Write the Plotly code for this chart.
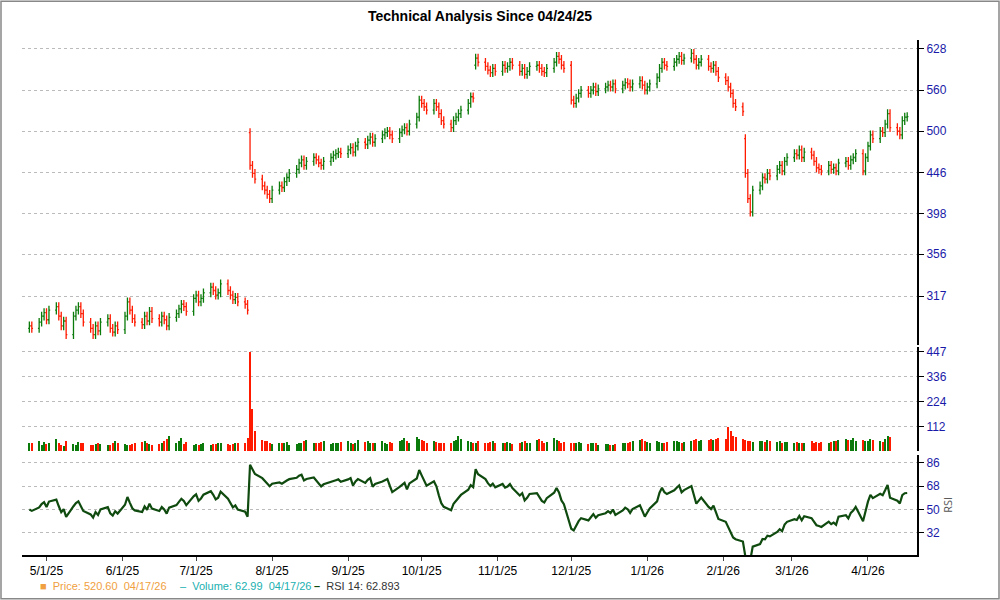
import pandas as pd
import numpy as np
import plotly.graph_objects as go

closes = [292, 290,
 295, 300, 303, 297, 305,
 308, 300, 292, 296, 285,
 300, 305, 308, 302, 295,
 290, 285, 292, 288, 295,
 298, 290, 287, 292, 289,
 300, 312, 305, 298, 295,
 293, 300, 296, 304, 298,
 295, 300, 297, 292, 299,
 302, 306, 310, 308, 304,
 315, 318, 312, 315, 320,
 325, 322, 318, 320, 328,
 322, 318, 314, 316, 312,
 310, 305, 455, 445, 438,
 430, 425, 420, 415, 425,
 430, 428, 435, 440, 445,
 450, 458, 462, 455, 460,
 465, 462, 458, 455, 460,
 465, 468, 470, 472, 470,
 475, 478, 472, 480, 485,
 482, 488, 492, 485, 490,
 495, 498, 500, 495, 490,
 498, 502, 505, 500, 510,
 520, 545, 540, 535, 530,
 540, 535, 525, 515, 510,
 505, 515, 520, 525, 530,
 540, 550, 548, 612, 605,
 598, 592, 588, 595, 590,
 600, 595, 598, 605, 600,
 590, 595, 585, 590, 598,
 600, 595, 590, 588, 595,
 605, 615, 610, 600, 595,
 545, 540, 548, 555, 560,
 555, 560, 565, 558, 562,
 565, 568, 565, 570, 562,
 568, 572, 570, 565, 570,
 575, 568, 560, 565, 570,
 580, 595, 605, 600, 598,
 605, 610, 615, 608, 612,
 620, 610, 600, 605, 610,
 598, 595, 600, 590, 580,
 575, 565, 555, 540, 535,
 528, 445, 415, 400, 425,
 430, 440, 438, 445, 442,
 450, 455, 448, 460, 465,
 470, 468, 475, 465, 472,
 468, 460, 452, 450, 448,
 455, 450, 452, 448, 458,
 460, 455, 462, 465, 470,
 448, 465, 480, 495, 490,
 500, 498, 510, 525, 505,
 500, 495, 515, 520, 520.6]

volumes = [40, 38,
 45, 30, 42, 35, 38,
 55, 40, 30, 25, 45,
 35, 30, 42, 38, 36,
 30, 28, 35, 40, 32,
 30, 28, 40, 45, 38,
 35, 30, 28, 32, 38,
 42, 45, 40, 35, 30,
 32, 36, 45, 55, 70,
 40, 45, 60, 35, 42,
 30, 35, 28, 32, 40,
 30, 35, 32, 40, 38,
 35, 30, 32, 36, 38,
 40, 60, 447, 190, 90,
 50, 45, 48, 40, 35,
 38, 40, 36, 42, 30,
 35, 40, 38, 45, 50,
 38, 40, 36, 42, 45,
 35, 40, 38, 36, 42,
 45, 40, 35, 38, 50,
 42, 45, 40, 38, 36,
 48, 40, 35, 42, 38,
 45, 50, 60, 45, 40,
 65, 55, 50, 45, 40,
 45, 42, 38, 40, 36,
 40, 45, 50, 70, 55,
 45, 42, 40, 38, 45,
 40, 38, 42, 45, 40,
 36, 40, 42, 38, 35,
 40, 42, 45, 40, 38,
 50, 55, 45, 40, 42,
 60, 50, 45, 40, 42,
 38, 40, 36, 42, 40,
 35, 38, 40, 36, 30,
 32, 35, 30, 28, 34,
 36, 40, 38, 42, 45,
 50, 55, 45, 42, 40,
 45, 42, 40, 38, 44,
 48, 45, 42, 40, 44,
 46, 50, 55, 48, 50,
 52, 55, 50, 58, 60,
 55, 110, 90, 70, 65,
 55, 50, 48, 45, 42,
 45, 48, 44, 50, 46,
 42, 45, 40, 44, 42,
 40, 42, 38, 36, 40,
 45, 40, 42, 38, 44,
 40, 42, 45, 48, 50,
 55, 50, 52, 60, 48,
 50, 45, 48, 55, 50,
 45, 42, 55, 70, 62.99]

gap_opens = {"2025-07-23": 498, "2025-10-23": 600, "2026-02-10": 490, "2025-12-01": 600}
rsi_seed = [4.0, 4.0]  # prior average gain / loss carried into the window

tick_dates = ["2025-05-01", "2025-06-01", "2025-07-01", "2025-08-01", "2025-09-01", "2025-10-01",
              "2025-11-01", "2025-12-01", "2026-01-01", "2026-02-01", "2026-03-01", "2026-04-01"]
tick_text = ["5/1/25", "6/1/25", "7/1/25", "8/1/25", "9/1/25", "10/1/25",
             "11/1/25", "12/1/25", "1/1/26", "2/1/26", "3/1/26", "4/1/26"]
price_ticks = [317, 356, 398, 446, 500, 560, 628]
vol_ticks = [112, 224, 336, 447]
rsi_ticks = [32, 50, 68, 86]

dates = pd.bdate_range("2025-04-24", periods=len(closes))
c = pd.Series(closes, index=dates, dtype=float)
o = c.shift(1).fillna(c.iloc[0] - 2)
for d, v in gap_opens.items():
    o[pd.Timestamp(d)] = v
hi = np.maximum(o, c) * 1.012
lo = np.minimum(o, c) * 0.988

au, ad = rsi_seed
rsi = []
prev = closes[0]
for v in closes:
    d = v - prev
    prev = v
    au = (au * 13 + max(d, 0)) / 14
    ad = (ad * 13 + max(-d, 0)) / 14
    rsi.append(100 - 100 / (1 + au / ad))

GREEN, RED = "#0a7a0a", "#ff1a00"
vcol = [GREEN if cc >= oo else RED for cc, oo in zip(c, o)]

fig = go.Figure()
fig.add_trace(go.Ohlc(x=dates, open=o, high=hi, low=lo, close=c, yaxis="y",
                      increasing_line_color=GREEN, decreasing_line_color=RED,
                      line_width=1.3, tickwidth=0.5, showlegend=False, hoverinfo="skip"))
fig.add_trace(go.Bar(x=dates, y=volumes, yaxis="y2", marker_color=vcol, marker_line_width=0,
                     width=86400000 * 0.45, showlegend=False))
fig.add_trace(go.Scatter(x=dates, y=rsi, yaxis="y3", mode="lines",
                         line=dict(color="#0f4a0f", width=2.2), showlegend=False))

axfont = dict(family="Liberation Sans, Arial", size=12, color="#1a1aa8")
common = dict(side="right", anchor="x", showline=True, linecolor="black", linewidth=2,
              ticks="outside", ticklen=5, tickcolor="black", gridcolor="#bbbbbb",
              griddash="dot", tickfont=axfont, zeroline=False, automargin=False)
fig.update_layout(
    width=1000, height=600, paper_bgcolor="white", plot_bgcolor="white",
    margin=dict(l=0, r=0, t=0, b=0, autoexpand=False), bargap=0,
    title=dict(text="<b>Technical Analysis Since 04/24/25</b>", x=0.48, y=0.982, xanchor="center",
               font=dict(family="Liberation Sans, Arial", size=14, color="black")),
    xaxis=dict(domain=[0.022, 0.917], anchor="y3", type="date", automargin=False,
               range=["2025-04-21", "2026-04-21"], rangeslider=dict(visible=False),
               tickvals=tick_dates, ticktext=tick_text, showgrid=False, showline=True,
               linecolor="black", linewidth=2, ticks="outside", ticklen=4,
               tickfont=dict(family="Liberation Sans, Arial", size=12, color="black")),
    yaxis=dict(domain=[0.425, 0.933], type="log", range=[np.log10(277), np.log10(643)],
               tickvals=price_ticks, **common),
    yaxis2=dict(domain=[0.248, 0.422], range=[0, 470], tickvals=vol_ticks, **common),
    yaxis3=dict(domain=[0.075, 0.242], range=[15, 92.2], tickvals=rsi_ticks,
                title=dict(text="RSI", font=dict(size=11, color="#555"), standoff=2), **common),
    shapes=[dict(type="rect", xref="paper", yref="paper", x0=0.001, y0=0.002, x1=0.999, y1=0.998,
                 line=dict(color="#888", width=1.5))],
)
lf = dict(family="Liberation Sans, Arial", size=11)
fig.add_annotation(xref="paper", yref="paper", x=0.038, y=0.01, yanchor="bottom", showarrow=False, xanchor="left",
                   text="<span style='color:#f0a040'>■  Price: 520.60  04/17/26</span>", font=lf)
fig.add_annotation(xref="paper", yref="paper", x=0.178, y=0.01, yanchor="bottom", showarrow=False, xanchor="left",
                   text="<span style='color:#20b0b0'>–  Volume: 62.99  04/17/26</span>", font=lf)
fig.add_annotation(xref="paper", yref="paper", x=0.312, y=0.01, yanchor="bottom", showarrow=False, xanchor="left",
                   text="<span style='color:#0f4a0f'><b>–</b></span>  <span style='color:#333'>RSI 14: 62.893</span>", font=lf)
fig.write_html("out.html", config={"displayModeBar": False},
               post_script="document.body.style.margin='0';document.body.style.overflow='hidden';")
